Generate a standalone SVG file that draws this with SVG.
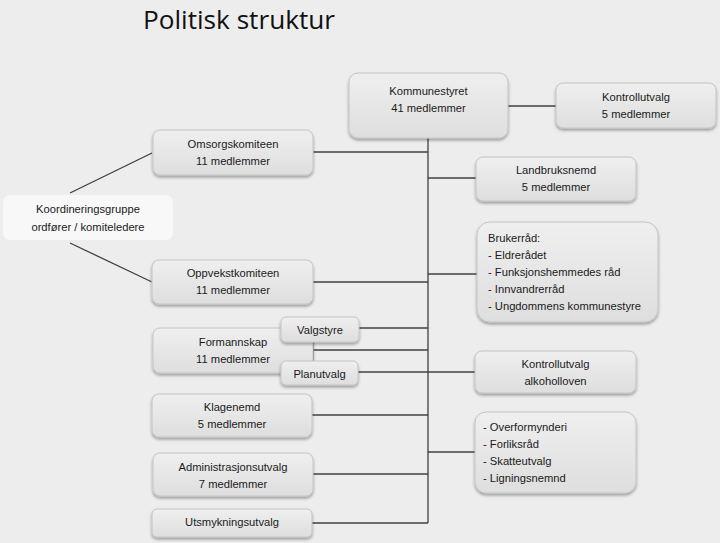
<svg xmlns="http://www.w3.org/2000/svg" width="720" height="543" viewBox="0 0 720 543">
<defs>
<linearGradient id="g" x1="0" y1="0" x2="0" y2="1">
<stop offset="0" stop-color="#efefef"/>
<stop offset="1" stop-color="#dedede"/>
</linearGradient>
<filter id="sh" x="-10%" y="-20%" width="120%" height="150%">
<feGaussianBlur in="SourceAlpha" stdDeviation="1.5"/>
<feOffset dx="0" dy="1.5" result="b"/>
<feComponentTransfer><feFuncA type="linear" slope="0.35"/></feComponentTransfer>
<feMerge><feMergeNode/><feMergeNode in="SourceGraphic"/></feMerge>
</filter>
</defs>
<style>
.box{fill:url(#g);stroke:#c4c4c4;stroke-width:1;filter:url(#sh)}
.t{font-family:"Liberation Sans",Arial,sans-serif;font-size:11.2px;fill:#1a1a1a;text-anchor:middle}
.l{font-family:"Liberation Sans",Arial,sans-serif;font-size:11.2px;fill:#1a1a1a}
.c{stroke:#404040;stroke-width:1.3;fill:none}
</style>
<rect width="720" height="543" fill="#ededed"/>
<text x="143" y="29" font-family="'Open Sans','Liberation Sans',sans-serif" font-size="26" fill="#111" textLength="192" lengthAdjust="spacingAndGlyphs">Politisk struktur</text>

<g id="connectors">
<path class="c" d="M428 138V523"/>
<path class="c" d="M508 106H556"/>
<path class="c" d="M313 152H428"/>
<path class="c" d="M428 178H476"/>
<path class="c" d="M428 274H477"/>
<path class="c" d="M313 282H428"/>
<path class="c" d="M359 328H428"/>
<path class="c" d="M313 342V361M313 350H428"/>
<path class="c" d="M358 372H476"/>
<path class="c" d="M312 415H428"/>
<path class="c" d="M428 452H475"/>
<path class="c" d="M313 474H428"/>
<path class="c" d="M312 523H428"/>
<path class="c" d="M70 193L152 153"/>
<path class="c" d="M70 243L152 282"/>
</g>

<g id="kommunestyret"><rect class="box" x="349" y="73" width="159" height="65" rx="9"/>
<text class="t" x="428.5" y="95">Kommunestyret</text><text class="t" x="428.5" y="112">41 medlemmer</text></g>
<g id="kontrollutvalg"><rect class="box" x="556" y="83" width="160" height="45" rx="7"/>
<text class="t" x="636" y="101">Kontrollutvalg</text><text class="t" x="636" y="118">5 medlemmer</text></g>
<g id="omsorgskomiteen"><rect class="box" x="153" y="130" width="160" height="45" rx="7"/>
<text class="t" x="233" y="148">Omsorgskomiteen</text><text class="t" x="233" y="165">11 medlemmer</text></g>
<g id="landbruksnemd"><rect class="box" x="476" y="157" width="160" height="44" rx="7"/>
<text class="t" x="556" y="174">Landbruksnemd</text><text class="t" x="556" y="191">5 medlemmer</text></g>
<g id="koordineringsgruppe"><rect x="3" y="195" width="170" height="45" rx="7" fill="#f8f8f8"/>
<text class="t" x="88" y="213">Koordineringsgruppe</text><text class="t" x="88" y="231">ordfører / komiteledere</text></g>
<g id="brukerraad"><rect class="box" x="477" y="222" width="181" height="100" rx="13"/>
<text class="l" x="488" y="242">Brukerråd:</text>
<text class="l" x="488" y="259">- Eldrerådet</text>
<text class="l" x="488" y="276">- Funksjonshemmedes råd</text>
<text class="l" x="488" y="293">- Innvandrerråd</text>
<text class="l" x="488" y="310">- Ungdommens kommunestyre</text></g>
<g id="oppvekstkomiteen"><rect class="box" x="152" y="260" width="161" height="44" rx="7"/>
<text class="t" x="233" y="277">Oppvekstkomiteen</text><text class="t" x="233" y="294">11 medlemmer</text></g>
<g id="formannskap"><rect class="box" x="153" y="328" width="160" height="45" rx="7"/>
<text class="t" x="233" y="346">Formannskap</text><text class="t" x="233" y="363">11 medlemmer</text></g>
<g id="valgstyre"><rect class="box" x="281" y="317" width="78" height="25" rx="5"/>
<text class="t" x="320" y="334">Valgstyre</text></g>
<g id="planutvalg"><rect class="box" x="281" y="361" width="77" height="24" rx="5"/>
<text class="t" x="319.5" y="378">Planutvalg</text></g>
<g id="kontrollutvalg-alkohol"><rect class="box" x="475" y="351" width="161" height="42" rx="7"/>
<text class="t" x="555.5" y="368">Kontrollutvalg</text><text class="t" x="555.5" y="385">alkoholloven</text></g>
<g id="klagenemd"><rect class="box" x="152" y="394" width="160" height="43" rx="7"/>
<text class="t" x="232" y="411">Klagenemd</text><text class="t" x="232" y="428">5 medlemmer</text></g>
<g id="overformynderi"><rect class="box" x="475" y="412" width="161" height="81" rx="11"/>
<text class="l" x="483" y="431">- Overformynderi</text>
<text class="l" x="483" y="448">- Forliksråd</text>
<text class="l" x="483" y="465">- Skatteutvalg</text>
<text class="l" x="483" y="482">- Ligningsnemnd</text></g>
<g id="administrasjonsutvalg"><rect class="box" x="153" y="453" width="160" height="43" rx="7"/>
<text class="t" x="233" y="471">Administrasjonsutvalg</text><text class="t" x="233" y="488">7 medlemmer</text></g>
<g id="utsmykningsutvalg"><rect class="box" x="152" y="509" width="160" height="28" rx="5"/>
<text class="t" x="232" y="526">Utsmykningsutvalg</text></g>
</svg>
